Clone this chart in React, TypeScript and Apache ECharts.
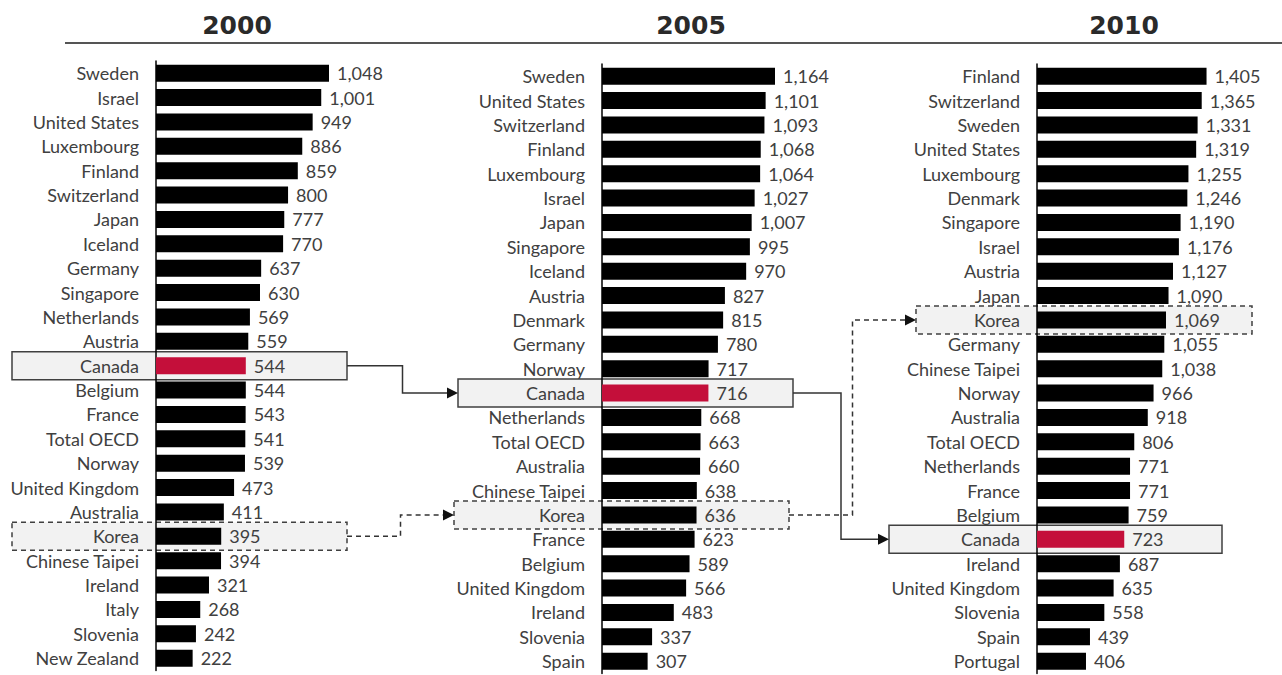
import React, { useEffect, useRef } from "react";
import * as echarts from "echarts";

const years = ["2000", "2005", "2010"];

const countries2000 = ["Sweden", "Israel", "United States", "Luxembourg", "Finland", "Switzerland", "Japan", "Iceland", "Germany", "Singapore", "Netherlands", "Austria", "Canada", "Belgium", "France", "Total OECD", "Norway", "United Kingdom", "Australia", "Korea", "Chinese Taipei", "Ireland", "Italy", "Slovenia", "New Zealand"];
const values2000 = [1048, 1001, 949, 886, 859, 800, 777, 770, 637, 630, 569, 559, 544, 544, 543, 541, 539, 473, 411, 395, 394, 321, 268, 242, 222];

const countries2005 = ["Sweden", "United States", "Switzerland", "Finland", "Luxembourg", "Israel", "Japan", "Singapore", "Iceland", "Austria", "Denmark", "Germany", "Norway", "Canada", "Netherlands", "Total OECD", "Australia", "Chinese Taipei", "Korea", "France", "Belgium", "United Kingdom", "Ireland", "Slovenia", "Spain"];
const values2005 = [1164, 1101, 1093, 1068, 1064, 1027, 1007, 995, 970, 827, 815, 780, 717, 716, 668, 663, 660, 638, 636, 623, 589, 566, 483, 337, 307];

const countries2010 = ["Finland", "Switzerland", "Sweden", "United States", "Luxembourg", "Denmark", "Singapore", "Israel", "Austria", "Japan", "Korea", "Germany", "Chinese Taipei", "Norway", "Australia", "Total OECD", "Netherlands", "France", "Belgium", "Canada", "Ireland", "United Kingdom", "Slovenia", "Spain", "Portugal"];
const values2010 = [1405, 1365, 1331, 1319, 1255, 1246, 1190, 1176, 1127, 1090, 1069, 1055, 1038, 966, 918, 806, 771, 771, 759, 723, 687, 635, 558, 439, 406];

const highlighted = "Canada";
const tracked = "Korea";

const FONT = "Lato";
const GREY = "#404040";
const RED = "#c40f3a";

export default function App() {
  const ref = useRef<HTMLDivElement>(null);
  useEffect(() => {
    const chart = echarts.init(ref.current!, null, { renderer: "svg" });
    const panels = [
      { cats: countries2000, vals: values2000, left: 156, top: 61, title: 232, boxes: { Canada: [-144, 191], Korea: [-144, 191] } },
      { cats: countries2005, vals: values2005, left: 602, top: 64, title: 686, boxes: { Canada: [-144, 191], Korea: [-148, 187] } },
      { cats: countries2010, vals: values2010, left: 1037, top: 64, title: 1119, boxes: { Canada: [-148, 185], Korea: [-121, 215] } },
    ];
    const rowH = 24.375;
    const gridW = 250;
    const barPx = 173;

    const option: any = {
      animation: false,
      title: panels.map((p, i) => ({
        text: years[i],
        left: p.title,
        top: 8,
        textAlign: "center",
        textStyle: { fontFamily: "DejaVu Sans", fontWeight: 900, fontSize: 25, color: "#2a2a2a" },
      })),
      grid: panels.map((p) => ({ left: p.left, top: p.top, width: gridW, height: rowH * p.cats.length })),
      xAxis: panels.map((p, i) => ({
        type: "value",
        gridIndex: i,
        min: 0,
        max: (e: any) => (e.max * gridW) / barPx,
        show: false,
      })),
      yAxis: panels.map((p, i) => ({
        type: "category",
        gridIndex: i,
        data: p.cats,
        inverse: true,
        z: 4,
        axisLine: { show: true, lineStyle: { color: "#000", width: 1.5 } },
        axisTick: { show: false },
        splitLine: { show: false },
        axisLabel: { margin: 17, fontSize: 18, color: GREY, fontFamily: FONT },
      })),
      series: panels.map((p, i) => ({
        type: "bar",
        xAxisIndex: i,
        yAxisIndex: i,
        z: 5,
        barCategoryGap: "30%",
        data: p.vals.map((v, j) => ({
          value: v,
          itemStyle: { color: p.cats[j] === highlighted ? RED : "#000" },
        })),
        label: {
          show: true,
          position: "right",
          distance: 8,
          fontSize: 18,
          color: GREY,
          fontFamily: FONT,
          formatter: (d: any) => Number(d.value).toLocaleString("en-US"),
        },
      })),
    };
    chart.setOption(option);

    const graphics: any[] = [
      { type: "line", shape: { x1: 65, y1: 43, x2: 1282, y2: 43 }, style: { stroke: "#555", lineWidth: 2 } },
    ];
    const boxH = 28;
    const rects: Record<string, { l: number; r: number; y: number }[]> = { Canada: [], Korea: [] };
    panels.forEach((p, i) => {
      [highlighted, tracked].forEach((name) => {
        const idx = p.cats.indexOf(name);
        const pt = chart.convertToPixel({ gridIndex: i } as any, [0, idx]) as number[];
        const off = (p.boxes as any)[name];
        const l = pt[0] + off[0];
        const r = pt[0] + off[1];
        const y = pt[1];
        rects[name].push({ l, r, y });
        graphics.push({
          type: "rect",
          z: 1,
          shape: { x: l, y: y - boxH / 2, width: r - l, height: boxH },
          style: {
            fill: "#f2f2f2",
            stroke: "#404040",
            lineWidth: 1.5,
            lineDash: name === tracked ? [5, 4] : null,
          },
        });
      });
    });
    [highlighted, tracked].forEach((name) => {
      const rs = rects[name];
      for (let k = 0; k < rs.length - 1; k++) {
        const a = rs[k];
        const b = rs[k + 1];
        const mx = (a.r + b.l) / 2;
        const tipX = b.l;
        graphics.push({
          type: "polyline",
          z: 10,
          shape: { points: [[a.r, a.y], [mx, a.y], [mx, b.y], [tipX - 9, b.y]] },
          style: { stroke: "#333", lineWidth: 1.5, fill: null, lineDash: name === tracked ? [5, 4] : null },
        });
        graphics.push({
          type: "polygon",
          z: 10,
          shape: { points: [[tipX - 11, b.y - 5.5], [tipX, b.y], [tipX - 11, b.y + 5.5]] },
          style: { fill: "#111" },
        });
      }
    });
    chart.setOption({ graphic: graphics });

    return () => chart.dispose();
  }, []);
  return <div ref={ref} style={{ position: "fixed", left: 0, top: 0, width: 1282, height: 675, background: "#fff" }} />;
}
